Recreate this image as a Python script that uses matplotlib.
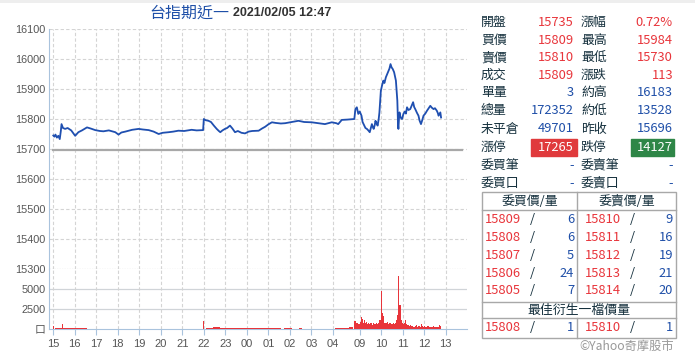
import matplotlib.pyplot as plt
from matplotlib.patches import Rectangle

plt.rcParams['font.family'] = ['Liberation Sans', 'Noto Sans CJK TC']

# ---- data ----
# night session 15:00-05:00, day session 08:45-13:45
price_times = [
    "15:00", "15:03", "15:06", "15:10", "15:14", "15:18", "15:21", "15:23", "15:27", "15:33",
    "15:40", "15:50", "16:01", "16:10", "16:20", "16:34", "16:45", "16:57", "17:10", "17:20",
    "17:35", "17:53", "18:02", "18:10", "18:21", "18:40", "18:58", "19:10", "19:26", "19:40",
    "19:54", "20:05", "20:22", "20:35", "20:49", "21:05", "21:26", "21:40", "21:58", "22:00",
    "22:05", "22:13", "22:20", "22:28", "22:36", "22:42", "22:46", "22:52", "22:59", "23:05",
    "23:13", "23:20", "23:27", "23:35", "23:45", "23:55", "00:05", "00:15", "00:33", "00:42",
    "00:51", "01:00", "01:10", "01:20", "01:35", "01:47", "02:05", "02:24", "02:40", "03:01",
    "03:20", "03:38", "03:57", "04:10", "04:15", "04:25", "04:40", "04:59",
    "08:45", "08:48", "08:52", "08:56", "09:00", "09:05", "09:08", "09:13", "09:16", "09:20",
    "09:24", "09:28", "09:31", "09:34", "09:37", "09:39", "09:42", "09:44", "09:47", "09:50",
    "09:53", "09:55", "09:57", "09:59", "10:02", "10:06", "10:09", "10:13", "10:16", "10:20",
    "10:23", "10:26", "10:29", "10:32", "10:36", "10:38", "10:41", "10:43", "10:45", "10:47",
    "10:48", "10:50", "10:51", "10:54", "10:58", "11:02", "11:06", "11:09", "11:12", "11:16",
    "11:21", "11:25", "11:29", "11:32", "11:35", "11:40", "11:44", "11:47", "11:51", "11:55",
    "11:58", "12:03", "12:08", "12:12", "12:17", "12:21", "12:26", "12:30", "12:35", "12:38",
    "12:40", "12:43", "12:45", "12:47",
]
price_vals = [
    15745, 15741, 15748, 15738, 15744, 15733, 15760, 15783, 15770, 15767,
    15770, 15762, 15744, 15756, 15762, 15772, 15768, 15763, 15760, 15759,
    15762, 15756, 15748, 15755, 15758, 15764, 15767, 15765, 15763, 15758,
    15750, 15754, 15756, 15758, 15761, 15760, 15764, 15762, 15763, 15800,
    15796, 15794, 15790, 15778, 15767, 15760, 15756, 15762, 15767, 15770,
    15778, 15768, 15756, 15760, 15754, 15752, 15758, 15760, 15761, 15768,
    15774, 15782, 15789, 15787, 15785, 15786, 15790, 15794, 15790, 15789,
    15786, 15783, 15789, 15786, 15783, 15797, 15798, 15800,
    15800, 15833, 15839, 15817, 15825, 15811, 15790, 15778, 15770, 15767,
    15762, 15756, 15770, 15783, 15772, 15767, 15780, 15794, 15785, 15778,
    15800, 15822, 15860, 15894, 15910, 15928, 15920, 15939, 15948, 15961,
    15968, 15983, 15972, 15967, 15956, 15945, 15928, 15895, 15861, 15780,
    15767, 15810, 15822, 15805, 15800, 15817, 15825, 15818, 15839, 15830,
    15833, 15845, 15856, 15840, 15833, 15820, 15811, 15795, 15783, 15798,
    15811, 15818, 15828, 15835, 15844, 15838, 15833, 15836, 15828, 15820,
    15811, 15818, 15822, 15805,
]
prev_close = 15696

night_vol_times = [
    "15:10", "15:20", "15:30", "15:40", "15:50", "16:00", "16:10", "16:20", "16:30", "16:40",
    "17:00", "17:30", "18:00", "18:30", "19:00", "19:50", "20:00", "20:10", "20:30", "21:00",
    "21:30", "22:10", "22:20", "22:30", "22:40", "22:50", "23:00", "23:10", "23:20", "23:30",
    "23:40", "23:50", "00:00", "00:10", "00:20", "00:30", "00:40", "00:50", "01:00", "01:10",
    "01:20", "01:30", "01:40", "01:50", "02:00", "02:10", "02:20", "02:30", "02:40", "02:50",
    "03:00", "03:10", "03:20", "03:30", "03:40", "03:50", "04:00", "04:10", "04:20", "04:30",
    "04:40", "04:50",
]
night_vols = [
    120, 100, 110, 90, 90, 80, 100, 80, 90, 60,
    50, 40, 40, 50, 40, 60, 60, 50, 40, 40,
    40, 130, 150, 200, 250, 180, 150, 120, 130, 110,
    100, 100, 110, 90, 80, 90, 100, 110, 120, 100,
    80, 70, 60, 80, 70, 60, 60, 70, 50, 50,
    60, 50, 40, 40, 50, 60, 60, 70, 90, 120,
    150, 200,
]
spike_times = ["15:00", "15:25", "22:00"]
spike_vols = [330, 660, 1040]

day_vol_times = [
    "08:45", "08:48", "08:51", "08:54", "08:57", "09:00", "09:03", "09:06", "09:09", "09:12",
    "09:15", "09:18", "09:21", "09:24", "09:27", "09:30", "09:33", "09:36", "09:39", "09:42",
    "09:45", "09:48", "09:51", "09:54", "09:57", "10:00", "10:03", "10:06", "10:09", "10:12",
    "10:15", "10:18", "10:21", "10:24", "10:27", "10:30", "10:33", "10:36", "10:39", "10:42",
    "10:45", "10:48", "10:51", "10:54", "10:57", "11:00", "11:03", "11:06", "11:09", "11:12",
    "11:15", "11:18", "11:21", "11:24", "11:27", "11:30", "11:33", "11:36", "11:39", "11:42",
    "11:45", "11:48", "11:51", "11:54", "11:57", "12:00", "12:03", "12:06", "12:09", "12:12",
    "12:15", "12:18", "12:21", "12:24", "12:27", "12:30", "12:33", "12:36", "12:39", "12:42",
    "12:45",
]
day_vols = [
    950, 1050, 700, 600, 650, 900, 1450, 1200, 800, 1100,
    700, 900, 650, 800, 600, 750, 550, 700, 650, 600,
    800, 600, 700, 1100, 1100, 4790, 2000, 1600, 800, 700,
    900, 650, 700, 800, 600, 650, 700, 600, 750, 1100,
    1790, 6660, 3040, 1100, 700, 600, 800, 1150, 600, 450,
    500, 400, 450, 350, 400, 300, 350, 450, 300, 400,
    350, 300, 600, 350, 300, 400, 300, 250, 350, 300,
    280, 300, 250, 350, 300, 250, 280, 250, 300, 550,
    350,
]

tick_times = ["15:00", "16:00", "17:00", "18:00", "19:00", "20:00", "21:00", "22:00", "23:00",
              "00:00", "01:00", "02:00", "03:00", "04:00", "09:00", "10:00", "11:00", "12:00", "13:00"]
tick_labels = [t[:2] for t in tick_times]
grid_times = tick_times + ["05:00"]

# quote panel
left_labels = ["開盤", "買價", "賣價", "成交", "單量", "總量", "未平倉", "漲停", "委買筆", "委買口"]
left_vals = ["15735", "15809", "15810", "15809", "3", "172352", "49701", "17265", "-", "-"]
right_labels = ["漲幅", "最高", "最低", "漲跌", "約高", "約低", "昨收", "跌停", "委賣筆", "委賣口"]
right_vals = ["0.72%", "15984", "15730", "113", "16183", "13528", "15696", "14127", "-", "-"]
bid_prices = ["15809", "15808", "15807", "15806", "15805"]
bid_qty = ["6", "6", "5", "24", "7"]
ask_prices = ["15810", "15811", "15812", "15813", "15814"]
ask_qty = ["9", "16", "19", "21", "20"]
best_bid = ("15808", "1")
best_ask = ("15810", "1")


def to_x(t):
    hh, mm = t.split(":")
    v = int(hh) + int(mm) / 60
    if v >= 15:
        return v - 15
    if v <= 5:
        return v + 9
    return v - 8.75 + 14


RED = "#e8353b"
BLUE = "#1f4fa8"
DARK = "#15303d"
GRID = "#d4d4d4"
AXIS = "#a9c3dd"

fig = plt.figure(figsize=(6.95, 3.63), dpi=100)
W, H = 695, 363
ax_p = fig.add_axes([49 / W, 1 - 269 / H, 418 / W, 240 / H])
ax_v = fig.add_axes([49 / W, 1 - 329 / H, 418 / W, 60 / H])

x0, x1 = -0.2, 19.24
gx = [to_x(t) for t in grid_times]

# price panel
ax_p.set_xlim(x0, x1)
ax_p.set_ylim(15300, 16100)
ax_p.set_yticks(range(15300, 16101, 100))
for v in range(15400, 16101, 100):
    ax_p.axhline(v, color=GRID, lw=0.8, ls=(0, (3, 2)), zorder=1)
ax_p.axhline(15300, color="#c8c8c8", lw=0.9, ls=(0, (1, 1)), zorder=1)
for g in gx:
    ax_p.axvline(g, color=GRID, lw=0.8, ls=(0, (3, 2)), zorder=1)
ax_p.plot([to_x("15:00"), to_x("13:45")], [prev_close, prev_close], color="#a8a8a8", lw=1.6, zorder=2)
ax_p.plot([to_x(t) for t in price_times], price_vals, color="#1f4fb0", lw=1.3, zorder=3)
ax_p.set_xticks([])
for s in ["top", "right", "bottom"]:
    ax_p.spines[s].set_visible(False)
ax_p.spines["left"].set_color(AXIS)
ax_p.tick_params(axis="y", length=0, pad=2.5, labelsize=7.8, labelcolor="#555555")
ax_p.patch.set_alpha(0)

# volume panel
ax_v.set_xlim(x0, x1)
ax_v.set_ylim(0, 7500)
for v in [2500, 5000]:
    ax_v.axhline(v, color="#d0d4d8", lw=0.9, zorder=1)
for g in gx:
    ax_v.axvline(g, color=GRID, lw=0.8, ls=(0, (3, 2)), zorder=1)
ax_v.bar([to_x(t) for t in night_vol_times], night_vols, width=1 / 6, color=RED, lw=0, zorder=3)
ax_v.bar([to_x(t) for t in spike_times], spike_vols, width=0.05, color=RED, lw=0, zorder=3)
ax_v.bar([to_x(t) for t in day_vol_times], day_vols, width=0.05, align="edge", color=RED, lw=0, zorder=3)
ax_v.set_yticks([0, 2500, 5000], ["口", "2500", "5000"])
ax_v.set_xticks([to_x(t) for t in tick_times], tick_labels)
for s in ["top", "right"]:
    ax_v.spines[s].set_visible(False)
ax_v.spines["left"].set_color(AXIS)
ax_v.spines["bottom"].set_color(AXIS)
ax_v.tick_params(axis="y", length=0, pad=2.5, labelsize=7.8, labelcolor="#555555")
ax_v.tick_params(axis="x", length=4, color=AXIS, pad=3, labelsize=8, labelcolor="#555555")
ax_v.patch.set_alpha(0)

# overlay for title and quote panel, in pixel units
ov = fig.add_axes([0, 0, 1, 1])
ov.set_xlim(0, W)
ov.set_ylim(H, 0)
ov.axis("off")
ov.patch.set_alpha(0)

ov.add_patch(Rectangle((0, 0), W, 2.5, color="#eeeeee", lw=0))

ov.text(229, 13, "台指期近一", ha="right", va="center", color="#1f50a8", fontsize=11.5,
        family=["Noto Sans CJK TC"])
ov.text(233, 13.5, "2021/02/05 12:47", ha="left", va="center", color="#333333", fontsize=9,
        fontweight="bold")

cj = ["Noto Sans CJK TC", "DejaVu Sans"]
fs = 9.3
row_y = [22.7, 40.2, 57.7, 75.2, 92.7, 110.2, 129.0, 147.5, 165.5, 183.3]
left_col = [RED, RED, RED, RED, BLUE, BLUE, BLUE, "white", BLUE, BLUE]
right_col = [RED, RED, RED, RED, BLUE, BLUE, BLUE, "white", BLUE, BLUE]
for i, y in enumerate(row_y):
    ov.text(481, y, left_labels[i], ha="left", va="center", color=DARK, fontsize=fs, family=cj)
    ov.text(574, y, left_vals[i], ha="right", va="center", color=left_col[i], fontsize=fs, family=cj)
    ov.text(581, y, right_labels[i], ha="left", va="center", color=DARK, fontsize=fs, family=cj)
    ov.text(673, y, right_vals[i], ha="right", va="center", color=right_col[i], fontsize=fs, family=cj)

ov.add_patch(Rectangle((531, 139.3), 46, 16.7, color="#e03a3c", zorder=0))
ov.add_patch(Rectangle((631, 139.3), 43, 16.7, color="#2e8647", zorder=0))

# order book table
tc = "#a8a8a8"
ov.add_patch(Rectangle((482, 191.7), 194, 146.6, fill=False, ec=tc, lw=1))
for y in [210, 302, 318.3]:
    ov.plot([482, 676], [y, y], color=tc, lw=1)
ov.plot([577.3, 577.3], [191.7, 302], color=tc, lw=1)
ov.plot([577.3, 577.3], [318.3, 338.3], color=tc, lw=1)
ov.text(529.5, 201.5, "委買價/量", ha="center", va="center", color=DARK, fontsize=fs, family=cj)
ov.text(626.5, 201.5, "委賣價/量", ha="center", va="center", color=DARK, fontsize=fs, family=cj)
book_y = [219.3, 237.3, 255.5, 273.3, 291.0]
for i, y in enumerate(book_y):
    ov.text(485, y, bid_prices[i], ha="left", va="center", color=RED, fontsize=fs, family=cj)
    ov.text(532.5, y, "/", ha="center", va="center", color=DARK, fontsize=fs, family=cj)
    ov.text(574, y, bid_qty[i], ha="right", va="center", color=BLUE, fontsize=fs, family=cj)
    ov.text(585, y, ask_prices[i], ha="left", va="center", color=RED, fontsize=fs, family=cj)
    ov.text(632.5, y, "/", ha="center", va="center", color=DARK, fontsize=fs, family=cj)
    ov.text(673, y, ask_qty[i], ha="right", va="center", color=BLUE, fontsize=fs, family=cj)
ov.text(579, 310, "最佳衍生一檔價量", ha="center", va="center", color=DARK, fontsize=fs, family=cj)
y = 327.7
ov.text(485, y, best_bid[0], ha="left", va="center", color=RED, fontsize=fs, family=cj)
ov.text(532.5, y, "/", ha="center", va="center", color=DARK, fontsize=fs, family=cj)
ov.text(574, y, best_bid[1], ha="right", va="center", color=BLUE, fontsize=fs, family=cj)
ov.text(585, y, best_ask[0], ha="left", va="center", color=RED, fontsize=fs, family=cj)
ov.text(632.5, y, "/", ha="center", va="center", color=DARK, fontsize=fs, family=cj)
ov.text(673, y, best_ask[1], ha="right", va="center", color=BLUE, fontsize=fs, family=cj)
ov.text(674, 346, "©Yahoo奇摩股市", ha="right", va="center", color="#999999", fontsize=8.8, family=cj)

fig.savefig("out.png", dpi=100)
